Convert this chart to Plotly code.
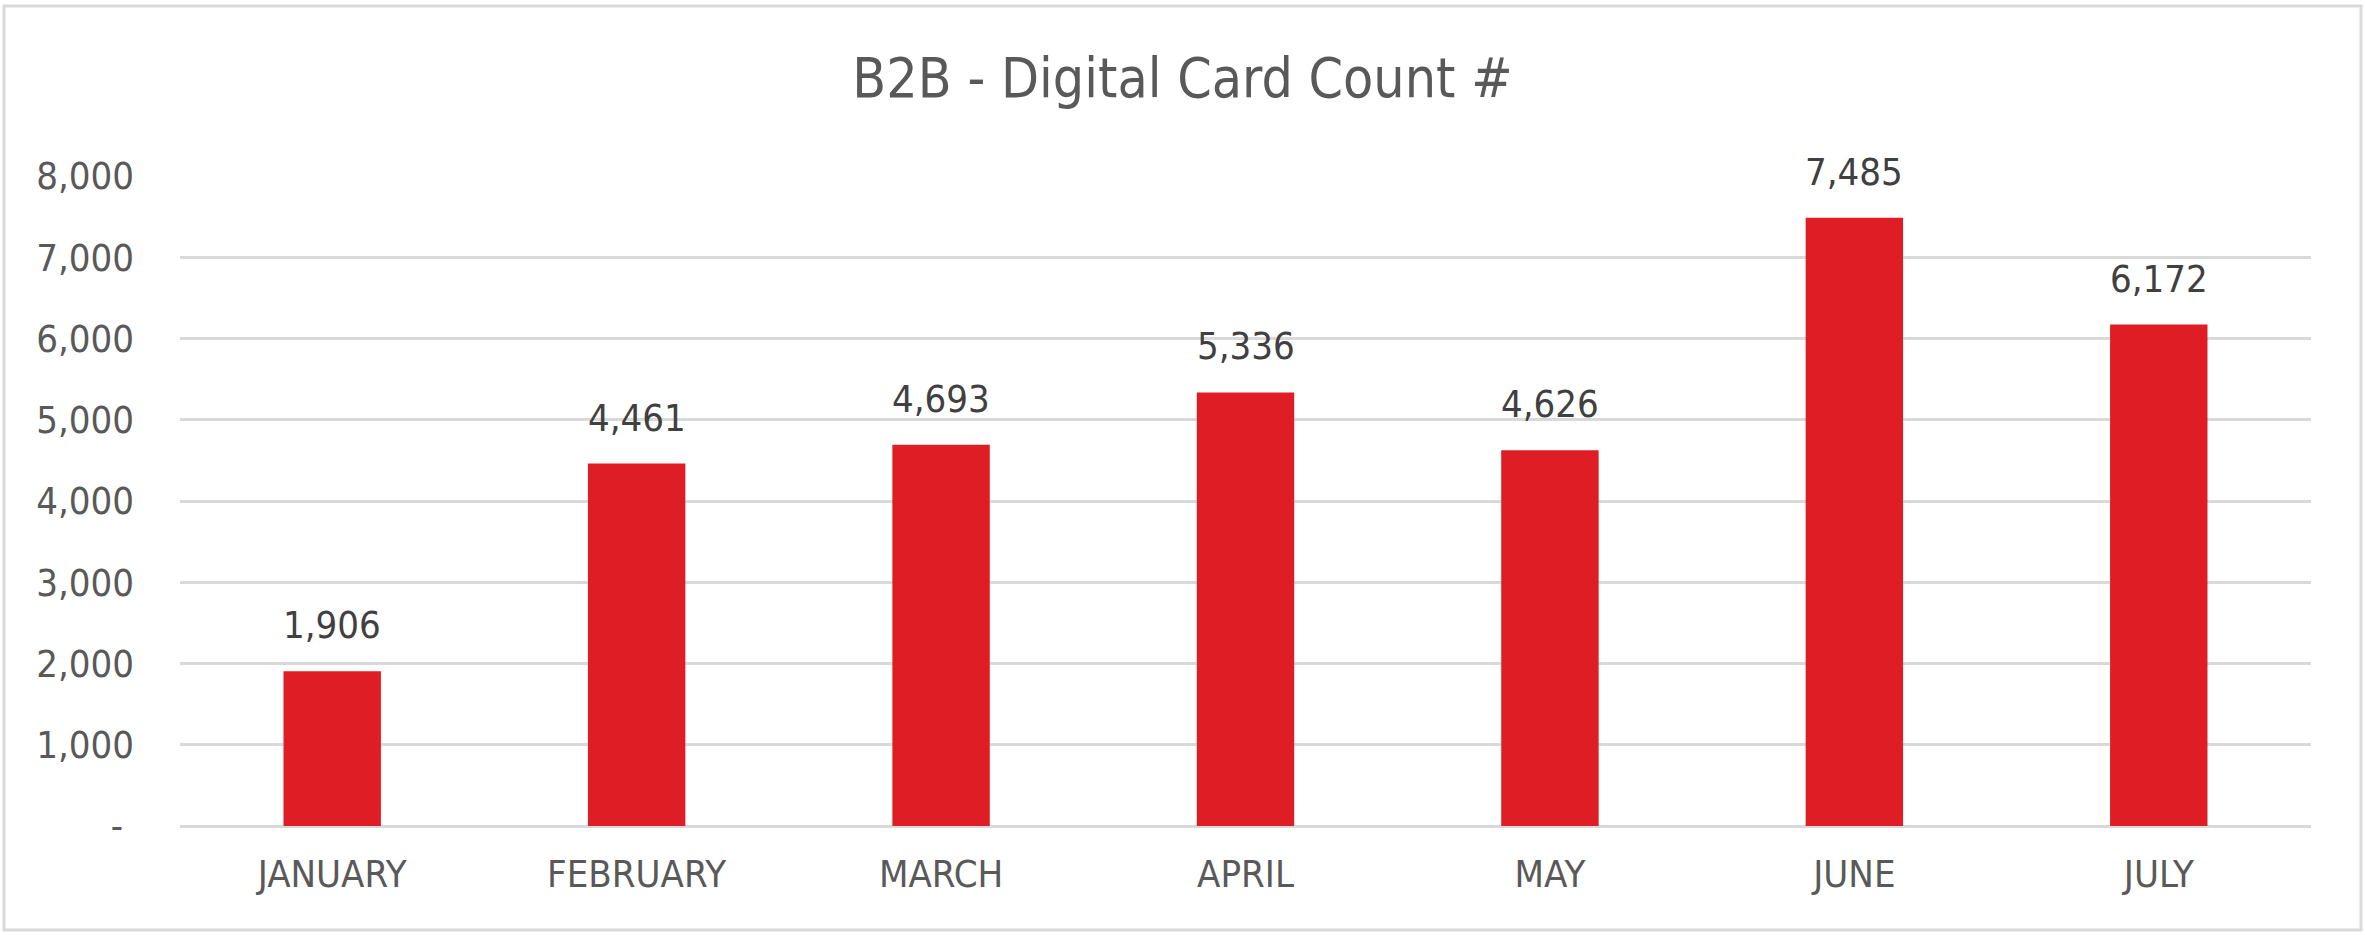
import plotly.graph_objects as go

months = ["JANUARY", "FEBRUARY", "MARCH", "APRIL", "MAY", "JUNE", "JULY"]
card_counts = [1906, 4461, 4693, 5336, 4626, 7485, 6172]
y_ticks = [0, 1000, 2000, 3000, 4000, 5000, 6000, 7000, 8000]
y_tick_labels = ["-\u00a0", "1,000", "2,000", "3,000", "4,000",
                 "5,000", "6,000", "7,000", "8,000"]

W, H = 2365, 935
font_name = "DejaVu Sans Condensed, Liberation Sans, sans-serif"

fig = go.Figure()

fig.add_trace(go.Bar(
    x=months,
    y=card_counts,
    marker=dict(color="#DF1D24", line=dict(width=0)),
    hoverinfo="x+y",
))

# data labels above each bar
for m, v in zip(months, card_counts):
    fig.add_annotation(
        x=m, y=v, text=f"{v:,}",
        showarrow=False, yanchor="bottom", yshift=22,
        font=dict(family=font_name, size=38, color="#404040"),
    )

# light frame round the whole chart
ml, mr, mt, mb = 180, 54, 176, 109
pw, ph = W - ml - mr, H - mt - mb
fig.add_shape(
    type="rect", xref="paper", yref="paper",
    x0=(4 - ml) / pw, x1=(W - 4 - ml) / pw,
    y0=-(H - 5 - mt - ph) / ph, y1=(mt - 6) / ph + 1,
    line=dict(color="#D9D9D9", width=3), layer="below",
)

fig.update_layout(
    width=W, height=H,
    margin=dict(l=ml, r=mr, t=mt, b=mb, pad=0),
    paper_bgcolor="white", plot_bgcolor="white",
    bargap=0.68,
    showlegend=False,
    title=dict(
        text="B2B - Digital Card Count #",
        x=0.5, xref="container", xanchor="center",
        y=1 - 78 / H, yref="container", yanchor="middle",
        font=dict(family=font_name, size=55, color="#595959"),
    ),
    font=dict(family=font_name, color="#595959"),
    xaxis=dict(
        tickfont=dict(family=font_name, size=38, color="#595959"),
        showgrid=False, showline=False, ticks="",
        ticklabelstandoff=22,
    ),
    yaxis=dict(
        range=[0, 8000],
        tickvals=y_ticks, ticktext=y_tick_labels,
        tickfont=dict(family=font_name, size=38, color="#595959"),
        showgrid=True, gridcolor="#D9D9D9", gridwidth=3,
        zeroline=True, zerolinecolor="#D9D9D9", zerolinewidth=3,
        showline=False, ticks="",
        ticklabelstandoff=45,
    ),
)

# the page's default body margin would push the chart off by 8px
fig.write_html("out.html", config={"displayModeBar": False},
               post_script="document.body.style.margin='0';")
